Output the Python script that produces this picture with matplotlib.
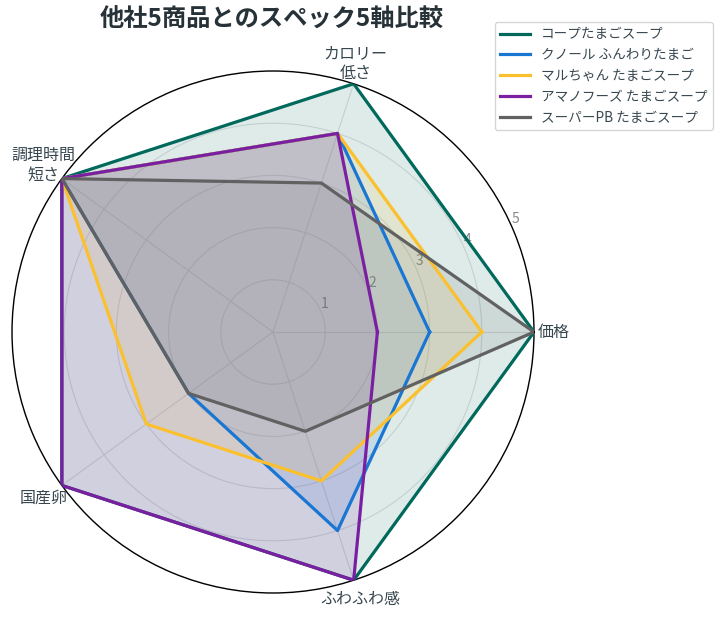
"""
Radar chart: spec comparison of our egg soup against four competitors.
"""

import numpy as np
import matplotlib
matplotlib.use("Agg")
import matplotlib.pyplot as plt

plt.rcParams["font.family"] = ["Noto Sans CJK JP", "DejaVu Sans"]

# --- data ---
axes_labels = ["価格", "カロリー\n低さ", "調理時間\n短さ", "国産卵", "ふわふわ感"]
products = ["コープたまごスープ", "クノール ふんわりたまご", "マルちゃん たまごスープ",
            "アマノフーズ たまごスープ", "スーパーPB たまごスープ"]
coop = [5, 5, 5, 5, 5]
knorr = [3, 4, 5, 2, 4]
maruchan = [4, 4, 5, 3, 3]
amano = [2, 4, 5, 5, 5]
super_pb = [5, 3, 5, 2, 2]
series = [coop, knorr, maruchan, amano, super_pb]
colors = ["#00695C", "#1976D2", "#FBC02D", "#7B1FA2", "#616161"]
r_ticks = [1, 2, 3, 4, 5]

TEXT = "#37474F"

fig = plt.figure(figsize=(7.22, 6.19), dpi=100)
ax = fig.add_axes([12 / 722, 26 / 619, 522 / 722, 522 / 619], projection="polar")
ax.set_axisbelow(True)

n = len(axes_labels)
angles = np.linspace(0, 2 * np.pi, n, endpoint=False)
closed = np.concatenate([angles, angles[:1]])

for name, vals, col in zip(products, series, colors):
    v = np.concatenate([vals, vals[:1]])
    ax.fill(closed, v, color=col, alpha=0.13, zorder=2)
    ax.plot(closed, v, color=col, linewidth=2.3, zorder=3, label=name)

# --- axes styling ---
ax.set_ylim(0, 5)
ax.set_yticks(r_ticks)
ax.set_yticklabels([str(t) for t in r_ticks], color="#888888", fontsize=10)
ax.set_rlabel_position(24)
ax.set_xticks(angles)
ax.set_xticklabels([])
ax.grid(color="#E0E0E0", linewidth=0.8)
ax.spines["polar"].set_color("black")
ax.spines["polar"].set_linewidth(1.0)

# axis labels placed next to each spoke tip (offsets in pixels -> points)
px = 72 / 100
label_offsets = [(4, 0, "left", "center"),
                 (2, 2, "center", "bottom"),
                 (-18, -5, "center", "bottom"),
                 (-18, -13, "center", "center"),
                 (7, -19, "center", "center")]
for ang, lab, (dx, dy, ha, va) in zip(angles, axes_labels, label_offsets):
    ax.annotate(lab, xy=(ang, 5), xytext=(dx * px, dy * px),
                textcoords="offset points", ha=ha, va=va,
                multialignment="center", fontsize=11.5, color=TEXT,
                annotation_clip=False)

fig.text(272 / 722, 1 - 20 / 619, "他社5商品とのスペック5軸比較",
         ha="center", va="center", fontsize=17.5, fontweight="bold",
         color="#263238")

fig.legend(loc="upper right", bbox_to_anchor=(713 / 722, 1 - 22 / 619),
           fontsize=9.8, frameon=True, handlelength=2.2,
           labelcolor=TEXT, edgecolor="#CCCCCC", fancybox=True,
           borderaxespad=0.0)

fig.savefig("out.png", dpi=100)
